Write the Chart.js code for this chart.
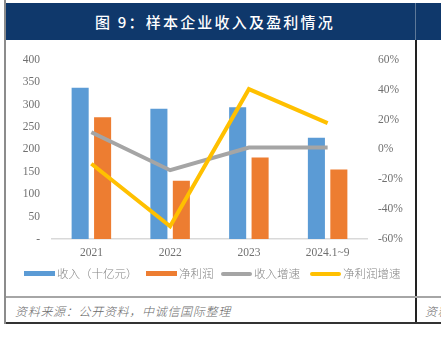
<!DOCTYPE html>
<html>
<head>
<meta charset="utf-8">
<script src="https://cdn.jsdelivr.net/npm/chart.js@4/dist/chart.umd.min.js"></script>
<style>
  html, body { margin: 0; padding: 0; background: #fff; }
  body { width: 441px; height: 339px; position: relative; overflow: hidden;
         font-family: "Noto Sans CJK SC", "Noto Sans", sans-serif; }
  .abs { position: absolute; }
  #head   { left: 6px; top: 3px; width: 409px; height: 37px; background: #0f386b; }
  #headR  { left: 416px; top: 3px; width: 25px; height: 37px; background: #0f386b; }
  #vdivT  { left: 415px; top: 3px; width: 1px; height: 37px; background: #5d7898; }
  #vdiv   { left: 415px; top: 40px; width: 2px; height: 283px; background: #222; }
  #lborder{ left: 4px; top: 0; width: 2px; height: 324px; background: #8c8c8c; }
  #sep    { left: 6px; top: 296px; width: 435px; height: 2px; background: #a6a6a6; }
  #bottom { left: 6px; top: 322px; width: 435px; height: 2px; background: #333; }
  #title  { left: 6px; top: 3px; width: 418px; height: 37px; line-height: 37px; text-align: center;
            color: #fff; font-size: 15px; font-weight: 500; letter-spacing: 2.2px; }
  .note   { top: 302px; height: 18px; line-height: 18px; font-size: 12px; color: #6a6a6a;
            font-style: italic; font-weight: 300; letter-spacing: 0.7px; white-space: nowrap; }
  #chartBox { left: 0; top: 41px; width: 415px; height: 255px; }
  .leg { position: absolute; top: 264px; height: 18px; line-height: 18px; font-size: 11.5px;
         color: #858585; white-space: nowrap; font-weight: 300; }
  .sw  { display: inline-block; width: 31px; height: 5px; vertical-align: middle;
         margin-right: 2px; position: relative; top: -1px; }
  .sw.line { height: 4px; border-radius: 2px; }
</style>
</head>
<body>
<div id="lborder" class="abs"></div>
<div id="head" class="abs"></div>
<div id="headR" class="abs"></div>
<div id="vdivT" class="abs"></div>
<div id="vdiv" class="abs"></div>
<div id="sep" class="abs"></div>
<div id="bottom" class="abs"></div>
<div id="title" class="abs">图 9：样本企业收入及盈利情况</div>
<div class="abs note" style="left:15px;">资料来源：公开资料，中诚信国际整理</div>
<div class="abs note" style="left:425px;">资料来源</div>
<div id="chartBox" class="abs"><canvas id="c" width="415" height="255"></canvas></div>
<div id="legend"></div>

<script>
// Categories and series
const categories = ['2021', '2022', '2023', '2024.1~9'];
const revenue = [338, 291, 294, 226];          // 收入（十亿元）
const netProfit = [272, 130, 182, 155];        // 净利润
const revenueGrowth = [11.5, -13.9, 1.3, 1.3]; // 收入增速 (%)
const profitGrowth = [-9.6, -51.5, 40.4, 17.6];// 净利润增速 (%)

// Axis tick values
const leftTicks = [0, 50, 100, 150, 200, 250, 300, 350, 400];
const rightTicks = [-60, -40, -20, 0, 20, 40, 60];

const seriesNames = ['收入（十亿元）', '净利润', '收入增速', '净利润增速'];
const colors = ['#5b9bd5', '#ed7d31', '#a5a5a5', '#ffc000'];

const tickFont = { family: "'Liberation Serif', serif", size: 11.5 };
const tickColor = '#707070';

const chart = new Chart(document.getElementById('c'), {
  data: {
    labels: categories,
    datasets: [
      { type: 'bar', label: seriesNames[0], data: revenue, backgroundColor: colors[0],
        yAxisID: 'y', order: 2, categoryPercentage: 0.57, barPercentage: 0.76 },
      { type: 'bar', label: seriesNames[1], data: netProfit, backgroundColor: colors[1],
        yAxisID: 'y', order: 2, categoryPercentage: 0.57, barPercentage: 0.76 },
      { type: 'line', label: seriesNames[2], data: revenueGrowth, borderColor: colors[2],
        backgroundColor: colors[2], borderWidth: 4, pointRadius: 0, tension: 0,
        yAxisID: 'y1', order: 1 },
      { type: 'line', label: seriesNames[3], data: profitGrowth, borderColor: colors[3],
        backgroundColor: colors[3], borderWidth: 4, pointRadius: 0, tension: 0,
        yAxisID: 'y1', order: 0 }
    ]
  },
  options: {
    responsive: false,
    animation: false,
    devicePixelRatio: 1,
    layout: { padding: { top: 14, left: 0, right: 0, bottom: 0 } },
    plugins: { legend: { display: false }, tooltip: { enabled: false } },
    scales: {
      x: {
        grid: { display: false, drawTicks: false },
        border: { display: true, color: '#d9d9d9', width: 1.5 },
        ticks: { font: { ...tickFont, size: 11.5 }, color: tickColor, padding: 7, maxRotation: 0 },
        afterFit: s => { s.height = 57; }
      },
      y: {
        position: 'left', min: 0, max: 400,
        grid: { display: false, drawTicks: false },
        border: { display: false },
        afterBuildTicks: s => { s.ticks = leftTicks.map(v => ({ value: v })); },
        ticks: { font: tickFont, color: tickColor, padding: 12,
                 callback: v => (v === 0 ? '-' : String(v)) },
        afterFit: s => { s.width = 52; }
      },
      y1: {
        position: 'right', min: -60, max: 60,
        grid: { display: false, drawTicks: false },
        border: { display: false },
        afterBuildTicks: s => { s.ticks = rightTicks.map(v => ({ value: v })); },
        ticks: { font: tickFont, color: tickColor, padding: 11, callback: v => v + '%' },
        afterFit: s => { s.width = 48; }
      }
    }
  }
});

// HTML legend built from the chart's datasets
const legendX = [24, 146, 221, 310];
const legend = document.getElementById('legend');
chart.data.datasets.forEach((ds, i) => {
  const item = document.createElement('div');
  item.className = 'leg';
  item.style.left = legendX[i] + 'px';
  const sw = document.createElement('span');
  sw.className = 'sw' + (ds.type === 'line' ? ' line' : '');
  sw.style.background = ds.type === 'line' ? ds.borderColor : ds.backgroundColor;
  item.appendChild(sw);
  item.appendChild(document.createTextNode(ds.label));
  legend.appendChild(item);
});
</script>
</body>
</html>
